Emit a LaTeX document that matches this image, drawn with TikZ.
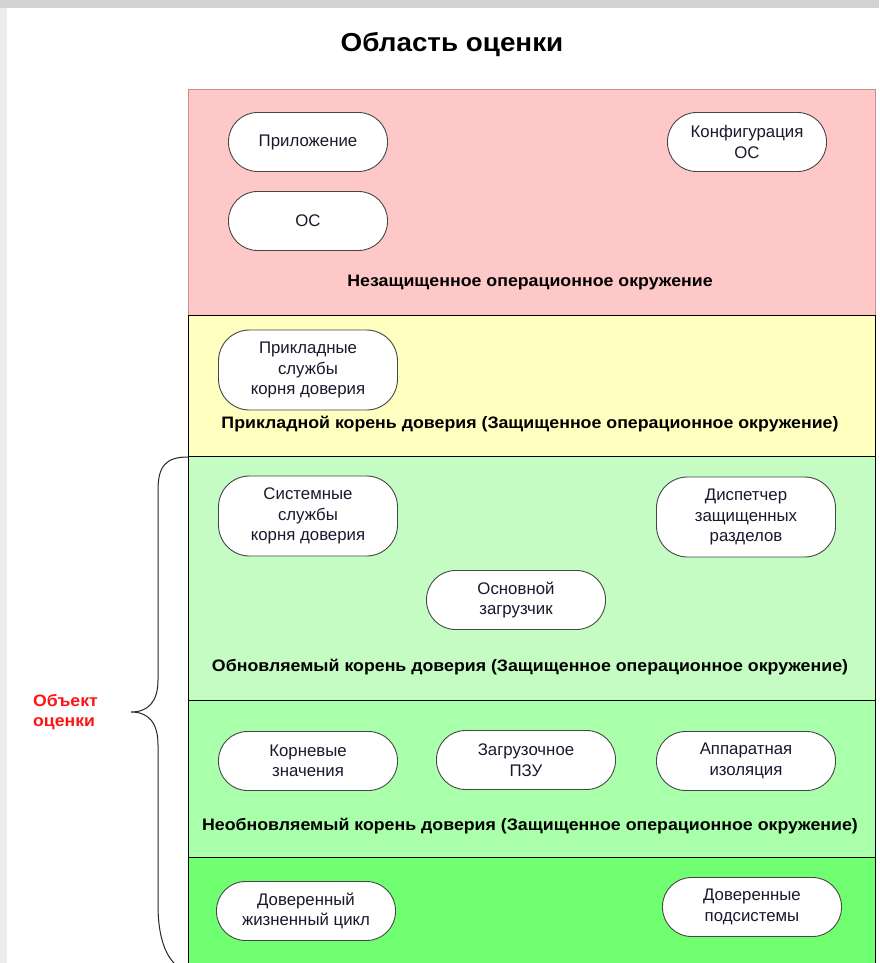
\documentclass[tikz,border=0pt]{standalone}
\usepackage{fontspec}
\setmainfont{Liberation Sans}
\usetikzlibrary{calc}
\definecolor{framegray}{RGB}{211,211,211}
\definecolor{sidegray}{RGB}{236,236,236}
\definecolor{pinkfill}{RGB}{255,200,200}
\definecolor{pinkline}{RGB}{200,140,140}
\definecolor{yellowfill}{RGB}{255,255,192}
\definecolor{palegreen}{RGB}{196,252,196}
\definecolor{midgreen}{RGB}{170,255,170}
\definecolor{brightgreen}{RGB}{112,255,112}
\definecolor{inktext}{RGB}{25,25,45}
\definecolor{pillline}{RGB}{70,70,70}
\definecolor{labelred}{RGB}{255,20,20}
\newfontfamily\widebold[FakeStretch=1.07]{Liberation Sans Bold}
\tikzset{
  x=1pt, y=-1pt,
  layer/.style={draw=black, line width=1pt},
  pill/.style={draw=pillline, fill=white, line width=0.9pt, rounded corners=29pt,
    minimum height=59pt, text=inktext, align=center,
    font=\fontsize{16.8}{20.5}\selectfont, inner sep=0pt},
  pillwide/.style={pill, minimum width=179pt},
  pillnarrow/.style={pill, minimum width=159pt},
  pilltall/.style={pillwide, minimum height=80pt, rounded corners=31pt},
  layertitle/.style={font=\widebold\fontsize{16.6}{19}\selectfont, text=black, inner sep=0pt},
}
\begin{document}
\begin{tikzpicture}
\useasboundingbox (0,0) rectangle (879,963);
\clip (0,0) rectangle (879,963);
\fill[white] (0,0) rectangle (879,963);
% window frame
\fill[framegray] (0,0) rectangle (879,8);
\fill[sidegray] (0,8) rectangle (7,963);

% title
\node[font=\widebold\fontsize{26}{30}\selectfont, inner sep=0pt] (title) at (452,45) {Область оценки};

% stacked layers
\draw[draw=pinkline, fill=pinkfill, line width=1pt] (188,90) rectangle (875,315);
\draw[layer, fill=yellowfill] (188,315) rectangle (875,456);
\draw[layer, fill=palegreen] (188,456) rectangle (875,700);
\draw[layer, fill=midgreen] (188,700) rectangle (875,857);
\draw[layer, fill=brightgreen] (188,857) rectangle (875,975);

% unprotected environment
\node[pillnarrow] (app) at (308,142) {Приложение};
\node[pillnarrow] (os) at (308,221) {ОС};
\node[pillnarrow] (oscfg) at (747,142) {Конфигурация\\ОС};
\node[layertitle] (unsafe) at (530,283) {Незащищенное операционное окружение};

% application root of trust
\node[pilltall] (appsvc) at (308,370) {Прикладные\\службы\\корня доверия};
\node[layertitle] (approot) at (530,424) {Прикладной корень доверия (Защищенное операционное окружение)};

% updatable root of trust
\node[pilltall] (syssvc) at (308,516) {Системные\\службы\\корня доверия};
\node[pilltall] (spm) at (746,517) {Диспетчер\\защищенных\\разделов};
\node[pillwide] (boot) at (516,600) {Основной\\загрузчик};
\node[layertitle] (updroot) at (530,667) {Обновляемый корень доверия (Защищенное операционное окружение)};

% immutable root of trust
\node[pillwide] (rootval) at (308,761) {Корневые\\значения};
\node[pillwide] (bootrom) at (526,760) {Загрузочное\\ПЗУ};
\node[pillwide] (hwiso) at (746,761) {Аппаратная\\изоляция};
\node[layertitle] (immroot) at (530,826) {Необновляемый корень доверия (Защищенное операционное окружение)};

% trusted base
\node[pillwide] (lifecycle) at (306,911) {Доверенный\\жизненный цикл};
\node[pillwide] (subsys) at (752,907) {Доверенные\\подсистемы};

% brace marking the target of evaluation
\coordinate (bracetop) at (188,457);
\coordinate (bracetip) at (131,712);
\coordinate (bracebot) at (190,972);
\draw[line width=1pt, black!85] (bracetop)
  .. controls (166,457) and (158,466) .. (158,490)
  -- (158,680)
  .. controls (158,702) and (148,712) .. (bracetip)
  .. controls (148,712) and (158,722) .. (158,745)
  -- (158,905)
  .. controls (158,945) and (170,968) .. (bracebot);
\node[font=\widebold\fontsize{16.5}{20}\selectfont, text=labelred, align=left, inner sep=0pt, anchor=west] (toe) at (33,712) {Объект\\оценки};
\end{tikzpicture}
\end{document}
